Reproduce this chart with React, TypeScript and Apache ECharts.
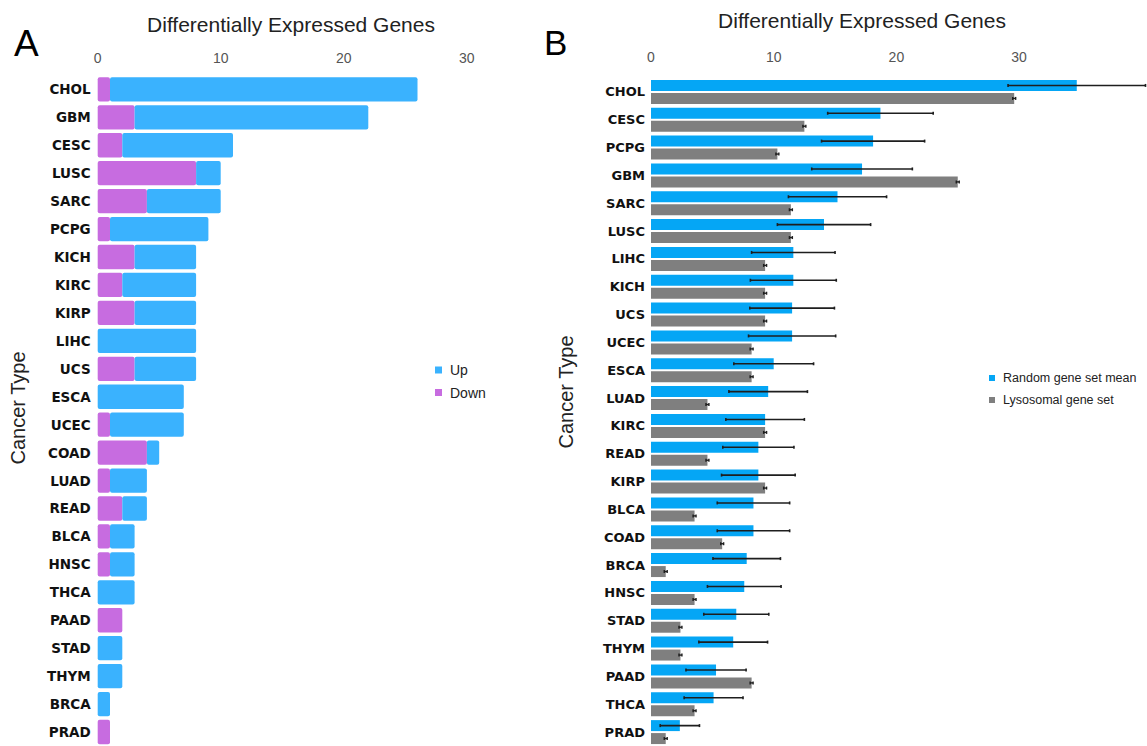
import React, { useEffect, useRef } from "react";
import * as echarts from "echarts";

// Panel A: differentially expressed lysosomal genes per cancer type
const categoriesA = ["CHOL","GBM","CESC","LUSC","SARC","PCPG","KICH","KIRC","KIRP","LIHC","UCS","ESCA","UCEC","COAD","LUAD","READ","BLCA","HNSC","THCA","PAAD","STAD","THYM","BRCA","PRAD"];
const downA = [1,3,2,8,4,1,3,2,3,0,3,0,1,4,1,2,1,1,0,2,0,0,0,1];
const upA = [25,19,9,2,6,8,5,6,5,8,5,7,6,1,3,2,2,2,3,0,2,2,1,0];

// Panel B: random gene set mean (+/- sd) vs lysosomal gene set
const categoriesB = ["CHOL","CESC","PCPG","GBM","SARC","LUSC","LIHC","KICH","UCS","UCEC","ESCA","LUAD","KIRC","READ","KIRP","BLCA","COAD","BRCA","HNSC","STAD","THYM","PAAD","THCA","PRAD"];
const randomMean = [34.7,18.7,18.1,17.2,15.2,14.1,11.6,11.6,11.5,11.5,10.0,9.55,9.3,8.75,8.75,8.35,8.35,7.8,7.6,6.95,6.7,5.3,5.1,2.35];
const randomSd = [5.6,4.3,4.2,4.1,4.0,3.8,3.4,3.5,3.45,3.55,3.25,3.2,3.2,2.9,3.0,2.95,2.95,2.75,3.0,2.65,2.8,2.45,2.4,1.6];
const lysosomal = [29.6,12.5,10.3,25.0,11.4,11.4,9.3,9.3,9.3,8.2,8.2,4.6,9.3,4.6,9.3,3.55,5.8,1.2,3.55,2.4,2.4,8.2,3.55,1.2];

const ticksX = [0, 10, 20, 30];

const SANS = "Liberation Sans, Arial, sans-serif";
const BOLD = "DejaVu Sans, sans-serif";
const BLUE_A = "#3ab2fe";
const PURPLE_A = "#c76ce0";
const BLUE_B = "#05a6f5";
const GRAY_B = "#7f7f7f";

const CAT_GAP_B = 0.14;
const BAR_GAP_B = 0.18;

export default function App() {
  const ref = useRef<HTMLDivElement>(null);
  useEffect(() => {
    if (!ref.current) return;
    const chart = echarts.init(ref.current, undefined, { renderer: "svg" });

    const errRender = (which: "blue" | "gray") => (params: any, api: any) => {
      const idx = api.value(0);
      const mean = api.value(1);
      const sd = api.value(2);
      const band = api.size([0, 1])[1];
      const bw = (band * (1 - CAT_GAP_B)) / (2 + BAR_GAP_B);
      const off = ((bw * (1 + BAR_GAP_B)) / 2) * (which === "blue" ? -1 : 1);
      const p1 = api.coord([mean - sd, idx]);
      const p2 = api.coord([mean + sd, idx]);
      const y = p1[1] + off;
      const st = { stroke: "#1e1e1e", lineWidth: which === "blue" ? 1.6 : 1.4 };
      return {
        type: "group",
        children: [
          { type: "line", shape: { x1: p1[0], y1: y, x2: p2[0], y2: y }, style: st },
          { type: "line", shape: { x1: p1[0], y1: y - 1.5, x2: p1[0], y2: y + 1.5 }, style: st },
          { type: "line", shape: { x1: p2[0], y1: y - 1.5, x2: p2[0], y2: y + 1.5 }, style: st },
        ],
      };
    };

    const xAxisCommon = {
      type: "value",
      position: "top",
      min: 0,
      interval: 10,
      axisLine: { show: false },
      axisTick: { show: false },
      splitLine: { show: false },
    };

    const legendItem = (x: number, y: number, color: string, label: string, size: number, sq: number) => [
      { type: "rect", shape: { x: x, y: y - sq / 2, width: sq, height: sq }, style: { fill: color } },
      {
        type: "text",
        x: x + sq + 8,
        y: y,
        style: { text: label, font: `${size}px ${SANS}`, fill: "#222", align: "left", verticalAlign: "middle" },
      },
    ];

    chart.setOption({
      animation: false,
      backgroundColor: "#ffffff",
      grid: [
        { left: 97.7, width: 369, top: 75.4, height: 675.6 },
        { left: 651, width: 490.8, top: 78, height: 675 },
      ],
      xAxis: [
        {
          ...xAxisCommon,
          gridIndex: 0,
          max: 30,
          axisLabel: { color: "#555", fontSize: 14, fontFamily: SANS, margin: 10 },
        },
        {
          ...xAxisCommon,
          gridIndex: 1,
          max: 40,
          axisLabel: {
            color: "#555",
            fontSize: 14,
            fontFamily: SANS,
            margin: 14,
            formatter: (v: number) => (ticksX.includes(v) ? String(v) : ""),
          },
        },
      ],
      yAxis: [
        {
          type: "category",
          gridIndex: 0,
          data: categoriesA,
          inverse: true,
          axisLine: { show: false },
          axisTick: { show: false },
          axisLabel: { color: "#111", fontSize: 13.5, fontWeight: "bold", fontFamily: BOLD, margin: 7 },
        },
        {
          type: "category",
          gridIndex: 1,
          data: categoriesB,
          inverse: true,
          axisLine: { show: false },
          axisTick: { show: false },
          axisLabel: { color: "#111", fontSize: 13, fontWeight: "bold", fontFamily: BOLD, margin: 6 },
        },
      ],
      series: [
        {
          name: "Down",
          type: "bar",
          xAxisIndex: 0,
          yAxisIndex: 0,
          stack: "a",
          data: downA,
          barCategoryGap: "13%",
          itemStyle: { color: PURPLE_A, borderRadius: 2 },
        },
        {
          name: "Up",
          type: "bar",
          xAxisIndex: 0,
          yAxisIndex: 0,
          stack: "a",
          data: upA,
          barCategoryGap: "13%",
          itemStyle: { color: BLUE_A, borderRadius: 2 },
        },
        {
          name: "Random gene set mean",
          type: "bar",
          xAxisIndex: 1,
          yAxisIndex: 1,
          data: randomMean,
          barCategoryGap: `${CAT_GAP_B * 100}%`,
          barGap: `${BAR_GAP_B * 100}%`,
          itemStyle: { color: BLUE_B },
        },
        {
          name: "Lysosomal gene set",
          type: "bar",
          xAxisIndex: 1,
          yAxisIndex: 1,
          data: lysosomal,
          barCategoryGap: `${CAT_GAP_B * 100}%`,
          barGap: `${BAR_GAP_B * 100}%`,
          itemStyle: { color: GRAY_B },
        },
        {
          type: "custom",
          xAxisIndex: 1,
          yAxisIndex: 1,
          clip: false,
          renderItem: errRender("blue"),
          encode: { x: [1, 2], y: 0 },
          data: categoriesB.map((_, i) => [i, randomMean[i], randomSd[i]]),
          z: 5,
        },
        {
          type: "custom",
          xAxisIndex: 1,
          yAxisIndex: 1,
          clip: false,
          renderItem: errRender("gray"),
          encode: { x: [1, 2], y: 0 },
          data: categoriesB.map((_, i) => [i, lysosomal[i], 0.12]),
          z: 5,
        },
      ],
      graphic: [
        { type: "text", x: 14, y: 43, style: { text: "A", font: `37px ${SANS}`, fill: "#000", align: "left", verticalAlign: "middle" } },
        { type: "text", x: 544, y: 42, style: { text: "B", font: `35px ${SANS}`, fill: "#000", align: "left", verticalAlign: "middle" } },
        { type: "text", x: 291, y: 24, style: { text: "Differentially Expressed Genes", font: `21px ${SANS}`, fill: "#222", align: "center", verticalAlign: "middle" } },
        { type: "text", x: 862, y: 20, style: { text: "Differentially Expressed Genes", font: `21px ${SANS}`, fill: "#222", align: "center", verticalAlign: "middle" } },
        { type: "text", x: 18, y: 408, rotation: Math.PI / 2, style: { text: "Cancer Type", font: `20px ${SANS}`, fill: "#222", align: "center", verticalAlign: "middle" } },
        { type: "text", x: 566, y: 392, rotation: Math.PI / 2, style: { text: "Cancer Type", font: `20px ${SANS}`, fill: "#222", align: "center", verticalAlign: "middle" } },
        ...legendItem(435, 370, BLUE_A, "Up", 14, 7),
        ...legendItem(435, 392.5, PURPLE_A, "Down", 14, 7),
        ...legendItem(989, 378, BLUE_B, "Random gene set mean", 12.5, 6),
        ...legendItem(989, 400, GRAY_B, "Lysosomal gene set", 12.5, 6),
      ],
    });
    return () => chart.dispose();
  }, []);
  return <div ref={ref} style={{ position: "fixed", left: 0, top: 0, width: 1147, height: 746 }} />;
}
